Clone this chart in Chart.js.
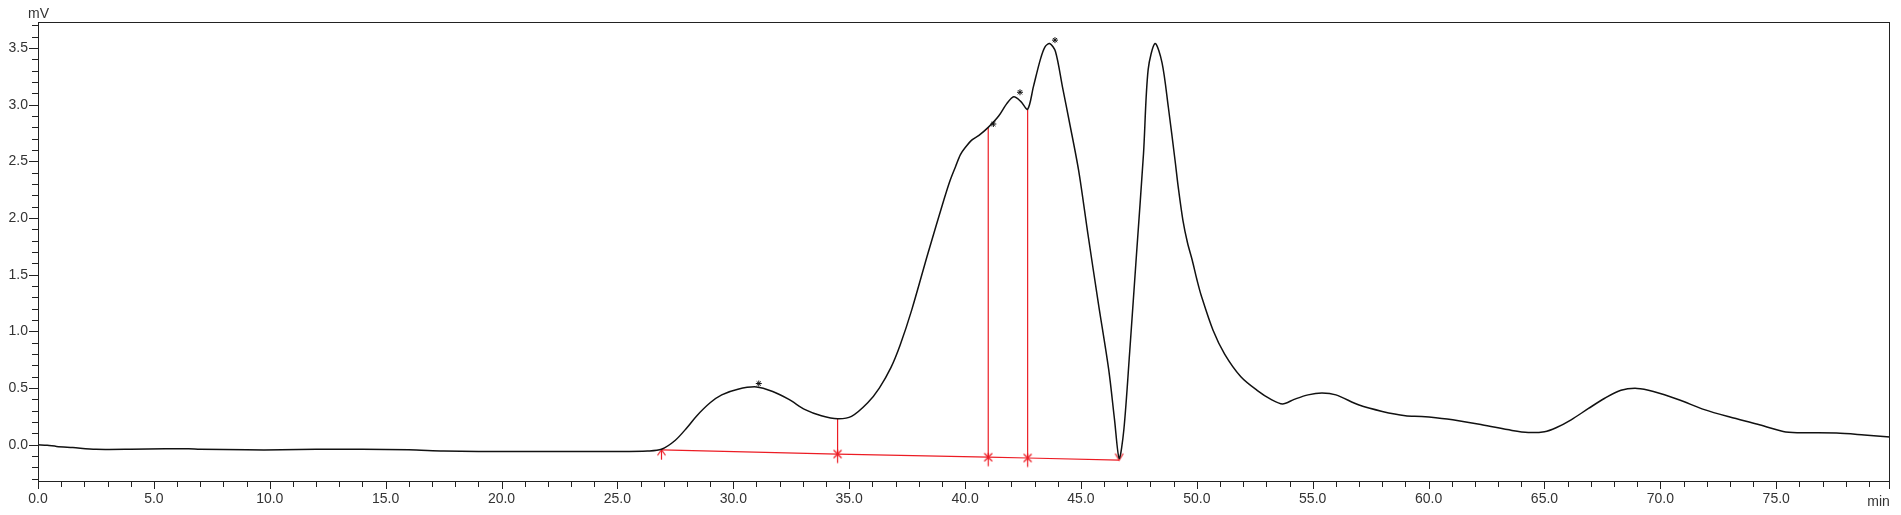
<!DOCTYPE html>
<html>
<head>
<meta charset="utf-8">
<script src="https://cdn.jsdelivr.net/npm/chart.js@4/dist/chart.umd.min.js"></script>
<style>
    html, body { margin: 0; padding: 0; background: #fff; }
    #wrap { width: 1901px; height: 515px; }
</style>
</head>
<body>
<div id="wrap"><canvas id="chrom" width="1901" height="515"></canvas></div>
<script>
// ── Trace (retention time in min, signal in mV) ──────────────────
const timeMin = [
    0.0, 0.4, 0.8, 1.5, 2.5, 4.0, 5.5, 6.5, 7.0, 9.0, 10.5, 12.0, 14.0, 16.0, 17.5, 19.0, 21.0, 23.0, 25.0, 26.3,
    26.9, 27.5, 28.0, 28.4, 29.0, 29.5, 30.2, 31.0, 31.7, 32.4, 33.1, 33.8, 34.5, 35.1, 35.8, 36.3, 36.8, 37.2, 37.7,
    38.4, 39.1, 39.35, 39.6, 39.8, 40.0, 40.3, 40.6, 41.0, 41.45, 41.8, 42.1, 42.4, 42.7, 42.95, 43.25, 43.45, 43.65,
    43.9, 44.2, 44.5, 44.9, 45.3, 45.75, 46.2, 46.45, 46.65, 46.85, 47.1, 47.4, 47.7, 47.9, 48.2, 48.5, 48.77, 49.06,
    49.2, 49.4, 49.6, 49.8, 50.0, 50.2, 50.7, 51.2, 51.9, 52.6, 53.2, 53.7, 54.2, 54.8, 55.4, 56.0, 57.0, 58.0, 59.0,
    59.7, 60.8, 62.3, 63.6, 64.3, 65.0, 65.5, 66.15, 66.9, 67.6, 68.3, 69.0, 69.7, 70.8, 71.9, 73.0, 74.2, 75.3,
    75.9, 77.6, 78.8, 79.9
];
const signalMv = [
    0.0, -0.005, -0.015, -0.025, -0.04, -0.04, -0.035, -0.035, -0.04, -0.045, -0.045, -0.04, -0.04, -0.045, -0.055, -0.06, -0.06, -0.06, -0.06, -0.055,
    -0.04, 0.04, 0.15, 0.25, 0.37, 0.44, 0.49, 0.51, 0.47, 0.40, 0.31, 0.256, 0.229, 0.25, 0.37, 0.50, 0.68, 0.88, 1.19,
    1.69, 2.17, 2.33, 2.46, 2.56, 2.62, 2.69, 2.73, 2.80, 2.90, 3.01, 3.07, 3.03, 2.96, 3.16, 3.40, 3.51, 3.54,
    3.47, 3.16, 2.85, 2.42, 1.86, 1.25, 0.66, 0.22, -0.12, 0.13, 0.81, 1.69, 2.57, 3.31, 3.54, 3.37, 2.98, 2.51,
    2.27, 1.98, 1.78, 1.63, 1.46, 1.31, 1.01, 0.80, 0.60, 0.48, 0.40, 0.36, 0.40, 0.44, 0.456, 0.44, 0.35, 0.294, 0.256,
    0.25, 0.227, 0.176, 0.126, 0.108, 0.115, 0.15, 0.22, 0.32, 0.41, 0.48, 0.497, 0.47, 0.397, 0.31, 0.244, 0.18, 0.117,
    0.106, 0.103, 0.086, 0.068
];

// ── Integration baseline and drop lines ──────────────────────────
const baselineTimes = [26.9, 34.5, 41.0, 42.7, 46.65];
const baselineMv    = [-0.045, -0.082, -0.11, -0.117, -0.135];
const baselineKinds = ['up', 'mid', 'mid', 'mid', 'down'];
const dropTimes     = [34.5, 41.0, 42.7];
const dropTopMv     = [0.229, 2.80, 2.96];

// ── Peak-top asterisks ───────────────────────────────────────────
const peakMarkTimes = [31.1, 41.22, 42.37, 43.88];
const peakMarkMv    = [0.54, 2.83, 3.11, 3.57];

// ── Axes ─────────────────────────────────────────────────────────
const X_MIN = 0, X_MAX = 79.9, X_STEP = 1, X_LABEL_EVERY = 5;
const Y_MIN = -0.32, Y_MAX = 3.73, Y_STEP = 0.1, Y_LABEL_EVERY = 0.5;

const RED   = '#ec1c24';
const INK   = '#111';
const FONT  = '"Liberation Sans", Arial, sans-serif';

// ── Baseline marker glyphs ───────────────────────────────────────
function makeMarker(kind) {
    const c = document.createElement('canvas');
    c.width = 21; c.height = 21;
    const g = c.getContext('2d');
    g.strokeStyle = RED;
    g.lineWidth = 1.2;
    g.beginPath();
    if (kind === 'up') {
        g.moveTo(10.5, 10.5); g.lineTo(10.5, 20.5);
        g.moveTo(6.5, 16); g.lineTo(10.5, 10.5); g.lineTo(14.5, 16);
    } else if (kind === 'down') {
        g.moveTo(6.5, 4); g.lineTo(10.5, 10.5); g.lineTo(14.5, 4);
    } else {
        g.moveTo(10.5, 6); g.lineTo(10.5, 19.5);
        g.moveTo(6.5, 6.5); g.lineTo(14.5, 14.5);
        g.moveTo(14.5, 6.5); g.lineTo(6.5, 14.5);
    }
    g.stroke();
    return c;
}

function isMultiple(v, step) {
    const r = v / step;
    return Math.abs(r - Math.round(r)) < 1e-6;
}

// ── Frame, tick marks and unit labels ────────────────────────────
const framePlugin = {
    id: 'frame',
    afterDraw(chart) {
        const { ctx, chartArea: a, scales } = chart;
        ctx.save();
        ctx.strokeStyle = '#222';
        ctx.lineWidth = 1;
        ctx.strokeRect(Math.round(a.left) + 0.5, Math.round(a.top) + 0.5,
                       Math.round(a.right - a.left) - 1, Math.round(a.bottom - a.top));

        ctx.beginPath();
        scales.y.ticks.forEach(t => {
            const py = Math.round(scales.y.getPixelForValue(t.value)) + 0.5;
            const len = isMultiple(t.value, Y_LABEL_EVERY) ? 9 : 6;
            ctx.moveTo(a.left, py); ctx.lineTo(a.left - len, py);
        });
        scales.x.ticks.forEach(t => {
            const px = Math.round(scales.x.getPixelForValue(t.value)) + 0.5;
            const len = isMultiple(t.value, X_LABEL_EVERY) ? 8 : 6;
            ctx.moveTo(px, a.bottom); ctx.lineTo(px, a.bottom + len);
        });
        const pr = Math.round(a.right) - 0.5;
        ctx.moveTo(pr, a.bottom); ctx.lineTo(pr, a.bottom + 8);
        ctx.stroke();

        ctx.fillStyle = '#333';
        ctx.font = '14px ' + FONT;
        ctx.textAlign = 'left';
        ctx.textBaseline = 'alphabetic';
        ctx.fillText('mV', a.left - 10, a.top - 4);
        ctx.textAlign = 'right';
        ctx.fillText('min', a.right, a.bottom + 25);
        ctx.restore();
    }
};

// ── Datasets ─────────────────────────────────────────────────────
const trace = timeMin.map((t, i) => ({ x: t, y: signalMv[i] }));
const baseline = baselineTimes.map((t, i) => ({ x: t, y: baselineMv[i] }));
const peakMarks = peakMarkTimes.map((t, i) => ({ x: t, y: peakMarkMv[i] }));

const datasets = [
    {
        label: 'signal',
        data: trace,
        borderColor: INK,
        borderWidth: 1.5,
        pointRadius: 0,
        tension: 0.3,
        order: 1
    },
    {
        label: 'baseline',
        data: baseline,
        borderColor: RED,
        borderWidth: 1.2,
        pointStyle: baselineKinds.map(makeMarker),
        pointRadius: 10,
        tension: 0,
        order: 2
    },
    {
        label: 'peaks',
        data: peakMarks,
        showLine: false,
        pointStyle: 'star',
        pointRadius: 3,
        borderColor: INK,
        borderWidth: 1,
        order: 0
    }
];

dropTimes.forEach((t, i) => {
    datasets.push({
        label: 'drop ' + (i + 1),
        data: [{ x: t, y: baselineMv[baselineTimes.indexOf(t)] }, { x: t, y: dropTopMv[i] }],
        borderColor: RED,
        borderWidth: 1.2,
        pointRadius: 0,
        order: 3
    });
});

// ── Chart ────────────────────────────────────────────────────────
new Chart(document.getElementById('chrom'), {
    type: 'line',
    data: { datasets },
    plugins: [framePlugin],
    options: {
        responsive: false,
        animation: false,
        events: [],
        layout: { padding: { top: 22, right: 8, left: 0, bottom: 0 } },
        plugins: { legend: { display: false }, tooltip: { enabled: false } },
        scales: {
            x: {
                type: 'linear',
                min: X_MIN,
                max: X_MAX,
                grid: { display: false, drawTicks: false },
                border: { display: false },
                afterFit: s => { s.height = 34; },
                ticks: {
                    stepSize: X_STEP,
                    includeBounds: false,
                    autoSkip: false,
                    maxRotation: 0,
                    minRotation: 0,
                    padding: 10,
                    color: '#333',
                    font: { family: FONT, size: 14 },
                    callback: v => isMultiple(v, X_LABEL_EVERY) ? Number(v).toFixed(1) : ''
                }
            },
            y: {
                min: Y_MIN,
                max: Y_MAX,
                grid: { display: false, drawTicks: false },
                border: { display: false },
                afterFit: s => { s.width = 38; },
                ticks: {
                    stepSize: Y_STEP,
                    includeBounds: false,
                    autoSkip: false,
                    padding: 10,
                    color: '#333',
                    font: { family: FONT, size: 14 },
                    callback: v => isMultiple(v, Y_LABEL_EVERY) ? (Math.round(v * 10) / 10).toFixed(1) : ''
                }
            }
        }
    }
});
</script>
</body>
</html>
